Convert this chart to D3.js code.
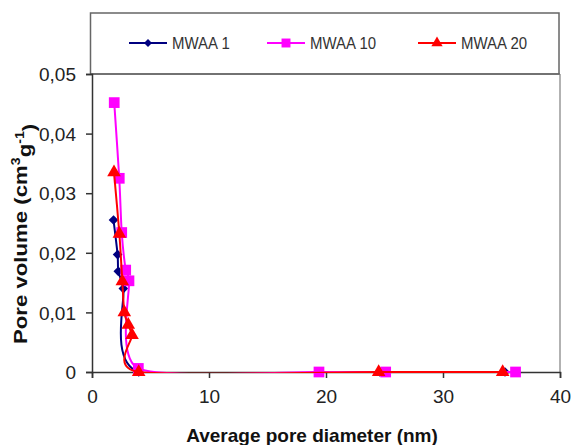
<!DOCTYPE html>
<html><head><meta charset="utf-8">
<script src="https://cdn.jsdelivr.net/npm/d3@7"></script>
<style>body{margin:0;background:#fff;} text{font-family:"Liberation Sans",Arial,sans-serif;}</style>
</head><body>
<svg id="c" width="572" height="445"></svg>
<script>
const seriesNames = ["MWAA 1", "MWAA 10", "MWAA 20"];
const mwaa1X = [1.84, 2.19, 2.25, 2.68, 4.0, 24.6, 35.3];
const mwaa1Y = [0.0255, 0.0197, 0.0169, 0.0140, 0, 0, 0];
const mwaa10X = [1.9, 2.33, 2.54, 2.88, 3.16, 3.96, 19.4, 25.1, 36.2];
const mwaa10Y = [0.0452, 0.0325, 0.0234, 0.0171, 0.0153, 0.0006, 0, 0, 0];
const mwaa20X = [1.88, 2.34, 2.59, 2.76, 3.1, 3.42, 3.99, 24.5, 35.1];
const mwaa20Y = [0.0335, 0.0232, 0.0152, 0.0100, 0.0079, 0.0062, 0, 0, 0];
const xTicks = [0, 10, 20, 30, 40];
const yTicks = [0, 0.01, 0.02, 0.03, 0.04, 0.05];

const svg = d3.select("#c");
const L = 92, R = 560, T = 74, B = 372;
const x = d3.scaleLinear().domain([0, 40]).range([L, R]);
const y = d3.scaleLinear().domain([0, 0.05]).range([B, T]);
const fmt = v => d3.format(".2~f")(v).replace(".", ",");

// frame top & right
svg.append("line").attr("x1", L).attr("x2", R).attr("y1", T).attr("y2", T).attr("stroke", "#777").attr("stroke-width", 1.5);
svg.append("line").attr("x1", R).attr("x2", R).attr("y1", T).attr("y2", B).attr("stroke", "#999").attr("stroke-width", 1.5);

// legend box
svg.append("rect").attr("x", 90.5).attr("y", 13).attr("width", 468.5).attr("height", 61)
  .attr("fill", "none").attr("stroke", "#666").attr("stroke-width", 1.5);

const xAxis = svg.append("g").attr("transform", `translate(0,${B})`)
  .call(d3.axisBottom(x).tickValues(xTicks).tickSize(6).tickPadding(12).tickFormat(d3.format("d")));
const yAxis = svg.append("g").attr("transform", `translate(${L},0)`)
  .call(d3.axisLeft(y).tickValues(yTicks).tickSize(6).tickPadding(10).tickFormat(fmt));
[xAxis, yAxis].forEach(g => {
  g.select(".domain").attr("stroke", "#333").attr("stroke-width", 1.5);
  g.selectAll(".tick line").attr("stroke", "#333").attr("stroke-width", 1.5);
  g.selectAll(".tick text").attr("font-size", 19).attr("fill", "#222").attr("font-family", "Liberation Sans");
});
yAxis.selectAll(".tick text").attr("dy", "0.35em");

svg.append("defs").append("clipPath").attr("id", "clip")
  .append("rect").attr("x", L).attr("y", T).attr("width", R - L).attr("height", B - T + 1);

const colors = ["#000080", "#FF00FF", "#FF0000"];
const data = [
  mwaa1X.map((v, i) => [v, mwaa1Y[i]]),
  mwaa10X.map((v, i) => [v, mwaa10Y[i]]),
  mwaa20X.map((v, i) => [v, mwaa20Y[i]])
];
const line = d3.line().x(d => x(d[0])).y(d => y(d[1])).curve(d3.curveCardinal.tension(0.3));

const symDiamond = d3.symbol().type(d3.symbolDiamond2).size(60);
const symSquare = d3.symbol().type(d3.symbolSquare).size(115);
const symTri = d3.symbol().type(d3.symbolTriangle).size(80);
const syms = [symDiamond, symSquare, symTri];

const plot = svg.append("g");
data.forEach((pts, i) => {
  plot.append("path").attr("d", line(pts)).attr("fill", "none").attr("stroke", colors[i])
    .attr("stroke-width", 2).attr("clip-path", "url(#clip)");
  plot.selectAll(null).data(pts).enter().append("path")
    .attr("d", syms[i]).attr("fill", colors[i])
    .attr("transform", d => `translate(${x(d[0])},${y(d[1])})`);
});

// legend
const legX = [129, 267, 418];
const symLeg = [d3.symbol().type(d3.symbolDiamond2).size(40), d3.symbol().type(d3.symbolSquare).size(80), d3.symbol().type(d3.symbolTriangle).size(55)];
seriesNames.forEach((n, i) => {
  const g = svg.append("g").attr("transform", `translate(${legX[i]},43)`);
  g.append("line").attr("x1", 0).attr("x2", 38).attr("stroke", colors[i]).attr("stroke-width", 2);
  g.append("path").attr("d", symLeg[i]).attr("fill", colors[i]).attr("transform", "translate(19,0)");
  g.append("text").attr("transform", "translate(43,0) scale(1,1.12)").attr("dy", "0.35em").attr("font-size", 15)
    .attr("fill", "#333").text(n);
});

// axis titles
svg.append("text").attr("x", 312).attr("y", 442).attr("text-anchor", "middle")
  .attr("font-size", 19).attr("font-weight", "bold").attr("fill", "#111").text("Average pore diameter (nm)");
const yt = svg.append("text").attr("transform", "translate(27,234) rotate(-90) scale(1.17,1)").attr("text-anchor", "middle")
  .attr("font-size", 19).attr("font-weight", "bold").attr("fill", "#111");
yt.append("tspan").text("Pore volume (cm");
yt.append("tspan").attr("font-size", 12).attr("dy", "-0.6em").text("3");
yt.append("tspan").attr("dy", "0.6em").text("g");
yt.append("tspan").attr("font-size", 12).attr("dy", "-0.6em").text("-1");
yt.append("tspan").attr("dy", "0.6em").text(")");
</script>
</body></html>
